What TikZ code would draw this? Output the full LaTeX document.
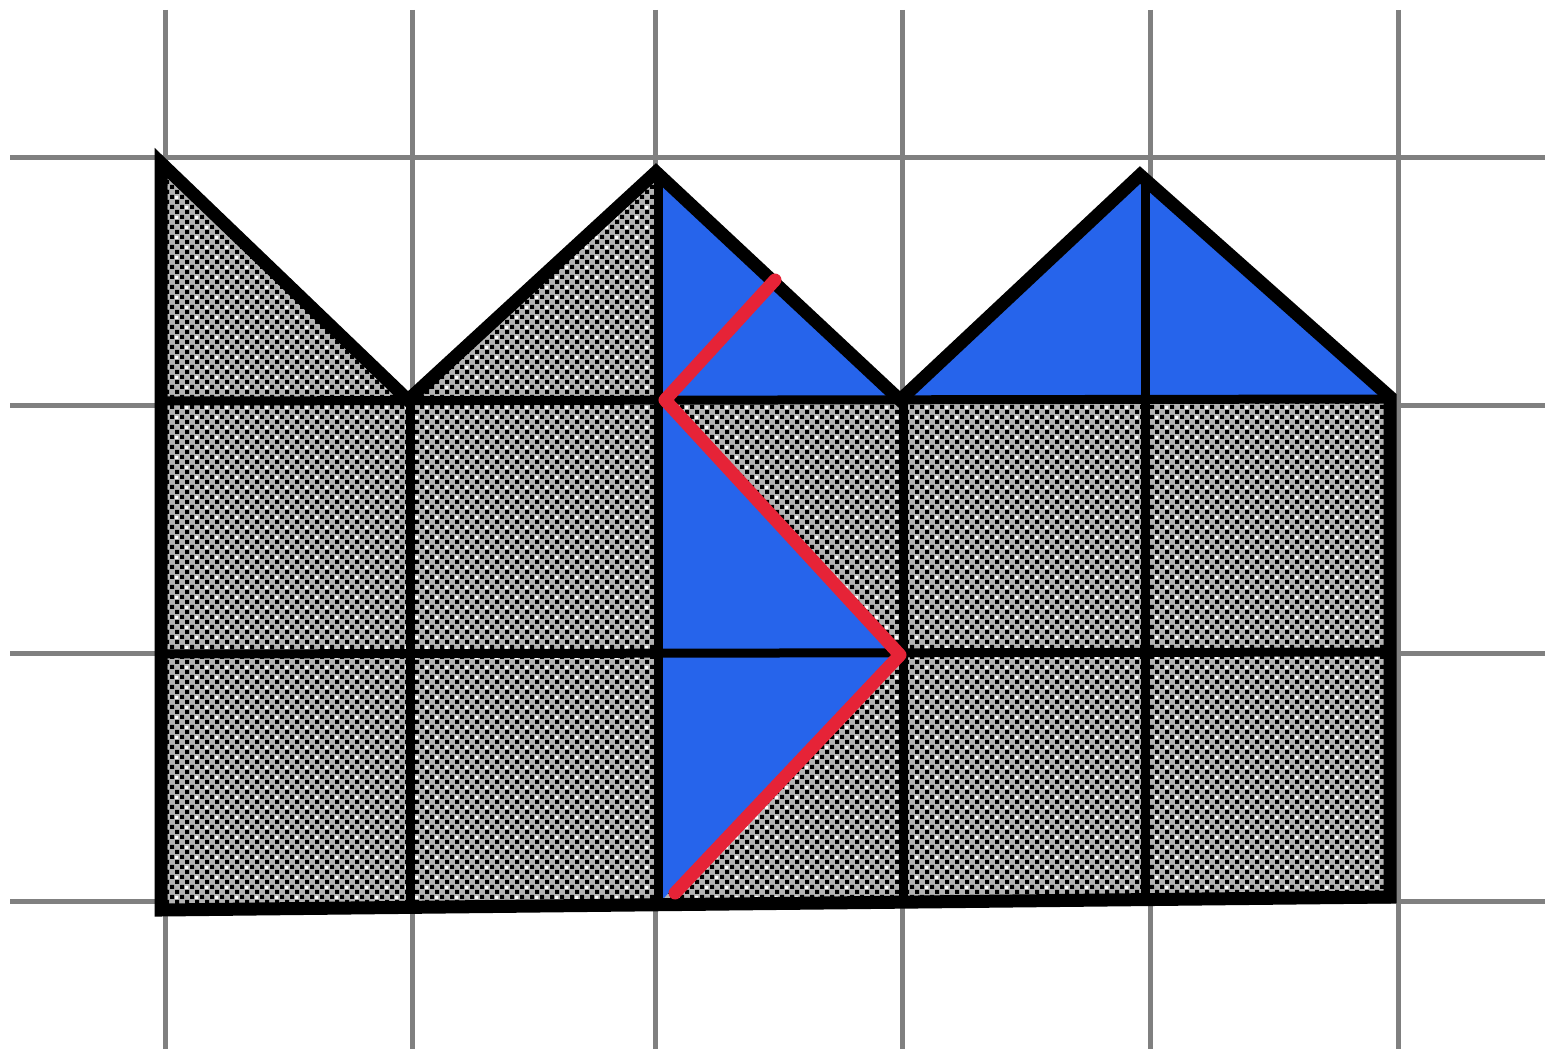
\documentclass[tikz,border=0pt]{standalone}
\usetikzlibrary{patterns}
\pgfdeclarepatternformonly{checkdots}{\pgfpoint{-1pt}{-1pt}}{\pgfpoint{11pt}{11pt}}{\pgfpoint{10pt}{10pt}}{%
  \pgfpathrectangle{\pgfpoint{0pt}{0pt}}{\pgfpoint{4pt}{4pt}}%
  \pgfpathrectangle{\pgfpoint{5pt}{5pt}}{\pgfpoint{4pt}{4pt}}%
  \pgfusepath{fill}}
\pgfdeclarepatternformonly{lightstreaks}{\pgfpoint{-1pt}{-1pt}}{\pgfpoint{21pt}{21pt}}{\pgfpoint{20pt}{20pt}}{%
  \pgfpathrectangle{\pgfpoint{5pt}{0pt}}{\pgfpoint{3pt}{3pt}}%
  \pgfpathrectangle{\pgfpoint{15pt}{10pt}}{\pgfpoint{3pt}{3pt}}%
  \pgfusepath{fill}}
\definecolor{gridgray}{RGB}{128,128,128}
\definecolor{hatchgray}{RGB}{180,180,180}
\definecolor{fillblue}{RGB}{38,100,235}
\definecolor{zigred}{RGB}{230,35,55}
\tikzset{
  gridline/.style={draw=gridgray, line width=5pt},
  outline/.style={draw=black, line width=13pt, line join=miter},
  innerline/.style={draw=black, line width=9pt},
  hatched/.style={fill=hatchgray, postaction={pattern=checkdots, pattern color=black}, postaction={pattern=lightstreaks, pattern color=white}},
  bluefill/.style={fill=fillblue},
  zigzag/.style={draw=zigred, line width=13pt, line cap=round, line join=round}
}
\begin{document}
\begin{tikzpicture}[x=1pt,y=-1pt]
\useasboundingbox (0,0) rectangle (1545,1049);
% grid
\foreach \gx in {165,412,655,902,1150,1398} {
  \draw[gridline] (\gx,10) -- (\gx,1049);
}
\foreach \gy in {157,405,653,901} {
  \draw[gridline] (10,\gy) -- (1545,\gy);
}
% key points of the outline
\coordinate (P1) at (161,163);
\coordinate (V1) at (408,400);
\coordinate (P2) at (656,172);
\coordinate (V2) at (900,400);
\coordinate (P3) at (1140,175);
\coordinate (R1) at (1390,397);
\coordinate (R2) at (1390,897);
\coordinate (L2) at (161,910);
% hatched body
\fill[hatched] (P1) -- (V1) -- (P2) -- (V2) -- (P3) -- (R1) -- (R2) -- (L2) -- cycle;
% blue regions
\fill[bluefill] (658,172) -- (658,400) -- (V2) -- cycle;
\fill[bluefill] (V2) -- (P3) -- (R1) -- cycle;
\fill[bluefill] (658,400) -- (658,653) -- (900,653) -- cycle;
\fill[bluefill] (658,653) -- (895,653) -- (662,900) -- cycle;
% inner lines
\draw[innerline] (161,401) -- (1390,399);
\draw[innerline] (161,654) -- (1390,652);
\draw[innerline] (410,400) -- (410,906);
\draw[innerline] (658,172) -- (658,903);
\draw[innerline] (903,400) -- (903,900);
\draw[innerline] (1145,180) -- (1145,898);
% outline
\draw[outline] (P1) -- (V1) -- (P2) -- (V2) -- (P3) -- (R1) -- (R2) -- (L2) -- cycle;
% red zigzag
\coordinate (Z1) at (775,280);
\coordinate (Z2) at (665,400);
\coordinate (Z3) at (900,655);
\coordinate (Z4) at (675,893);
\draw[zigzag] (Z1) -- (Z2) -- (Z3) -- (Z4);
\end{tikzpicture}
\end{document}
